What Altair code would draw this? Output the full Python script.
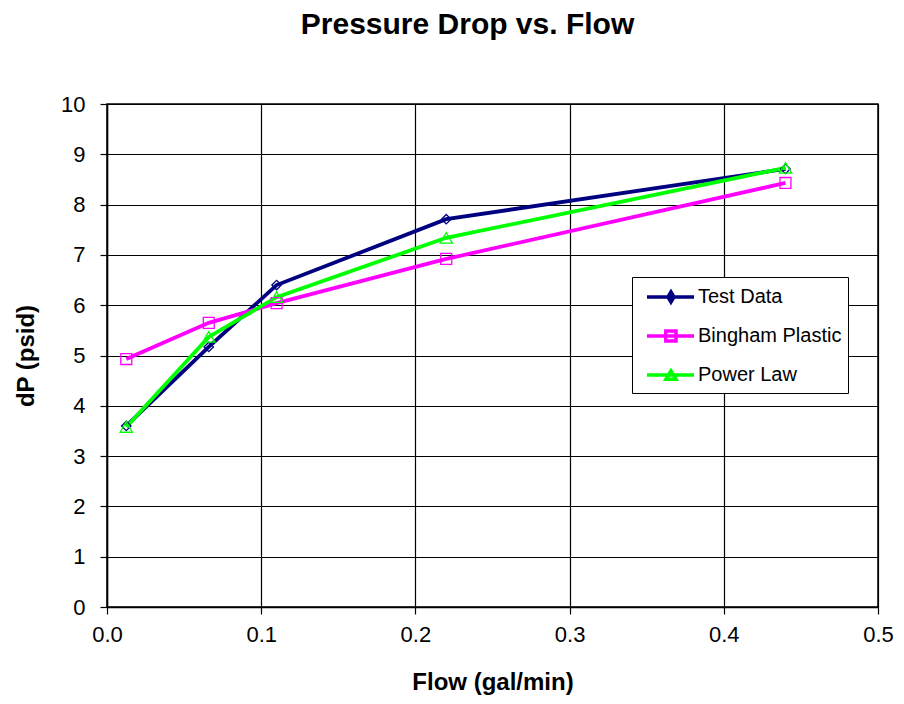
import altair as alt
import pandas as pd

flow = [0.0125, 0.066, 0.11, 0.22, 0.44]
test_data = [3.60, 5.17, 6.40, 7.71, 8.71]
bingham = [4.93, 5.65, 6.04, 6.92, 8.43]
power_law = [3.58, 5.37, 6.16, 7.34, 8.73]
series_names = ["Test Data", "Bingham Plastic", "Power Law"]
colors = ["#000080", "#FF00FF", "#00FF00"]
markers = ["diamond", "square", "triangle-up"]
legend_paths = [
    "M-0.42,0H3.5M1.58,-0.42L1.83,0L1.58,0.42L1.33,0Z",
    "M-0.42,0H3.5M1.15,-0.42H2.0V0.42H1.15Z",
    "M-0.42,0H3.5M1.58,-0.35L2.0,0.35H1.16Z",
]

rows = []
for name, vals in zip(series_names, [test_data, bingham, power_law]):
    for x, y in zip(flow, vals):
        rows.append({"Flow": x, "dP": y, "Series": name})
df = pd.DataFrame(rows)

FONT = "Liberation Sans"

x_enc = alt.X("Flow:Q", scale=alt.Scale(domain=[0, 0.5], nice=False),
              axis=alt.Axis(title="Flow (gal/min)", values=[0, 0.1, 0.2, 0.3, 0.4, 0.5],
                            format=".1f", labelPadding=10, titlePadding=25, labelFlush=False))
y_enc = alt.Y("dP:Q", scale=alt.Scale(domain=[0, 10], nice=False),
              axis=alt.Axis(title="dP (psid)", values=list(range(11)), labelPadding=15,
                            titlePadding=22, labelFlush=False))

color_scale = alt.Scale(domain=series_names, range=colors)

lines = alt.Chart(df).mark_line(strokeWidth=3.8).encode(
    x=x_enc, y=y_enc,
    color=alt.Color("Series:N", scale=color_scale, legend=None),
    order=alt.Order("Flow:Q"),
)

points = alt.Chart(df).mark_point(filled=False, strokeWidth=1.3, opacity=1).encode(
    x=x_enc, y=y_enc,
    color=alt.Color("Series:N", scale=color_scale, legend=None),
    shape=alt.Shape("Series:N", scale=alt.Scale(domain=series_names, range=markers), legend=None),
    size=alt.Size("Series:N", scale=alt.Scale(domain=series_names, range=[90, 150, 130]), legend=None),
)

legend_props = dict(
    title=None, orient="none", legendX=525, legendY=173,
    symbolSize=576, symbolStrokeWidth=3.5, symbolOpacity=1, symbolFillColor="transparent",
    labelFont=FONT, labelFontSize=20, labelColor="#000", labelOffset=32,
    rowPadding=12, padding=6, fillColor="white", strokeColor="black",
)

legend_layer = alt.Chart(df).mark_point(filled=False, opacity=0).encode(
    x=x_enc, y=y_enc,
    color=alt.Color("Series:N", scale=color_scale, legend=alt.Legend(**legend_props)),
    shape=alt.Shape("Series:N", scale=alt.Scale(domain=series_names, range=legend_paths),
                    legend=alt.Legend(**legend_props)),
)

chart = alt.layer(lines, points, legend_layer).resolve_scale(
    color="independent", shape="independent", size="independent"
).properties(
    width=771, height=503,
    background="white",
    autosize=alt.AutoSizeParams(type="none"),
    padding={"left": 99, "top": 96, "right": 18, "bottom": 89},
    title=alt.TitleParams("Pressure Drop vs. Flow", font=FONT, fontSize=30, fontWeight="bold",
                          color="black", offset=53, dx=-25),
).configure_view(stroke="black", strokeWidth=1.5).configure_axis(
    grid=True, gridColor="black", gridOpacity=1, gridWidth=1.2,
    domain=True, domainColor="black", domainWidth=1.5,
    tickColor="black", tickSize=7, tickWidth=1.2,
    labelFont=FONT, labelFontSize=22, labelColor="black",
    titleFont=FONT, titleFontSize=24, titleFontWeight="bold", titleColor="black",
)

chart.save("out.html", embed_options={"renderer": "svg", "actions": False})
